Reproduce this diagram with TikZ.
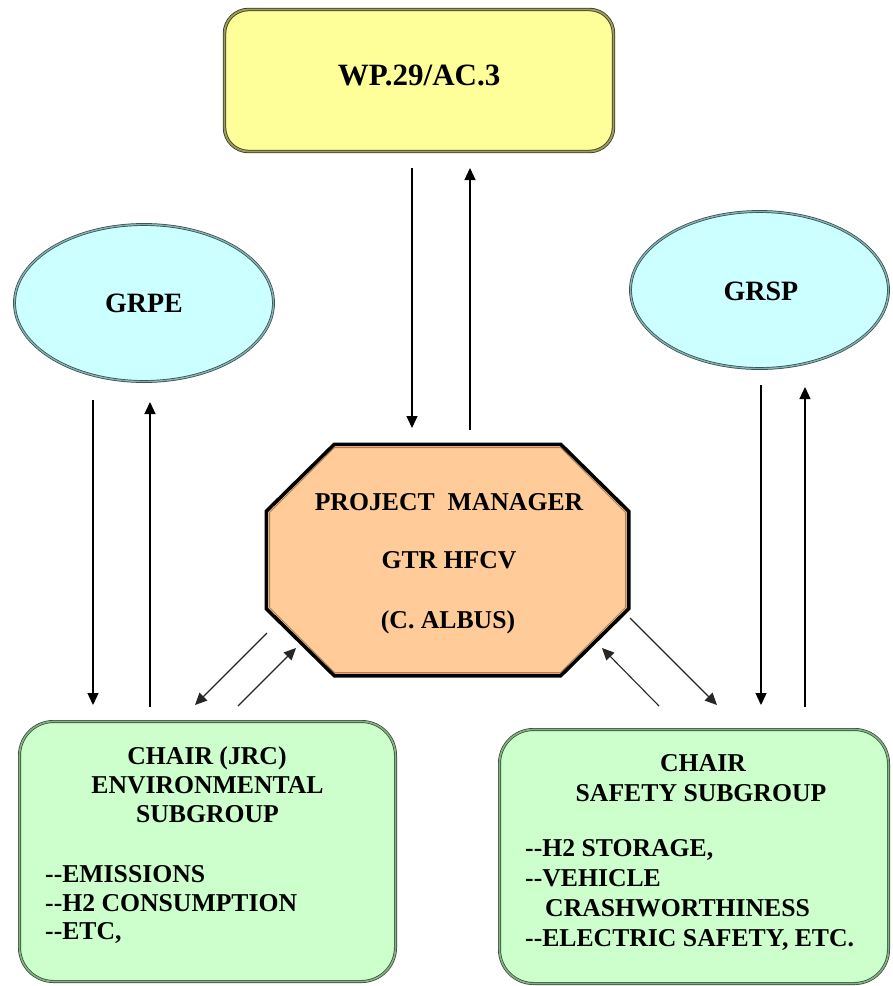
\documentclass[tikz,border=0pt]{standalone}
\usepackage{fontspec}
\setmainfont{Liberation Serif}
\usetikzlibrary{arrows.meta,shapes.geometric,calc}
\definecolor{wpfill}{HTML}{FFFF99}
\definecolor{wpedge}{HTML}{9C9C5C}
\definecolor{wpdark}{HTML}{3A3A20}
\definecolor{elfill}{HTML}{CCFFFF}
\definecolor{eledge}{HTML}{86B0B0}
\definecolor{eldark}{HTML}{2E4848}
\definecolor{pmfill}{HTML}{FFCC99}
\definecolor{pmedge}{HTML}{B08050}
\definecolor{sgfill}{HTML}{CCFFCC}
\definecolor{sgedge}{HTML}{88AE88}
\definecolor{sgdark}{HTML}{2E482E}
\newcommand\twohy{-\kern0pt-}
\begin{document}
\begin{tikzpicture}[x=1pt,y=-1pt,
  txt/.style={font=\fontsize{25.7}{29}\selectfont\bfseries, inner sep=0pt, anchor=base},
  txtl/.style={txt, anchor=base west},
  wpbox/.style={draw=wpdark, line width=0.8pt, double=wpedge, double distance=1.8pt,
     fill=wpfill, rounded corners=24pt, inner sep=0pt},
  elbox/.style={ellipse, draw=eldark, line width=0.7pt, double=eledge, double distance=1.4pt,
     fill=elfill, inner sep=0pt},
  sgbox/.style={draw=sgdark, line width=0.7pt, double=sgedge, double distance=1.6pt,
     fill=sgfill, rounded corners=34pt, inner sep=0pt},
  arr/.style={line width=1.3pt, -{Triangle[width=11pt,length=12pt]}},
  darr/.style={line width=1.1pt, draw=black!85, -{Triangle[width=11pt,length=12pt]}}
]
\useasboundingbox (0,0) rectangle (893,986);
\fill[white] (0,0) rectangle (893,986);

% top box
\node[wpbox, minimum width=389pt, minimum height=142pt] (wp) at (419,80.5) {};
\node[txt, font=\fontsize{31}{34}\selectfont\bfseries] (wpt) at (419,85) {WP.29/AC.3};

% ellipses
\node[elbox, minimum width=259pt, minimum height=157pt] (grpe) at (144,303) {};
\node[txt, font=\fontsize{28}{32}\selectfont\bfseries] (grpet) at (144,312) {GRPE};
\node[elbox, minimum width=258pt, minimum height=157pt] (grsp) at (759.5,290) {};
\node[txt, font=\fontsize{28}{32}\selectfont\bfseries] (grspt) at (761,300) {GRSP};

% octagon (project manager)
\node[minimum width=362pt, minimum height=231pt, inner sep=0pt] (pm) at (447.5,560) {};
\draw[line width=3.6pt, fill=pmfill, line join=miter]
  ($(pm.north west)+(68,0)$) -- ($(pm.north east)+(-68,0)$) -- ($(pm.north east)+(0,67)$)
  -- ($(pm.south east)+(0,-67)$) -- ($(pm.south east)+(-68,0)$) -- ($(pm.south west)+(68,0)$)
  -- ($(pm.south west)+(0,-67)$) -- ($(pm.north west)+(0,67)$) -- cycle;
\draw[line width=1pt, draw=pmedge]
  ($(pm.north west)+(68.2,3.2)$) -- ($(pm.north east)+(-68.2,3.2)$) -- ($(pm.north east)+(-3.2,68.2)$)
  -- ($(pm.south east)+(-3.2,-68.2)$) -- ($(pm.south east)+(-68.2,-3.2)$) -- ($(pm.south west)+(68.2,-3.2)$)
  -- ($(pm.south west)+(3.2,-68.2)$) -- ($(pm.north west)+(3.2,68.2)$) -- cycle;
\node[txt] (pm1) at (449,510) {PROJECT\ \ MANAGER};
\node[txt] (pm2) at (449,568) {GTR HFCV};
\node[txt] (pm3) at (448,628) {(C. ALBUS)};

% bottom boxes
\node[sgbox, minimum width=376pt, minimum height=260pt] (env) at (207.5,851.5) {};
\node[txt] (env1) at (207,764) {CHAIR (JRC)};
\node[txt] (env2) at (207.5,793.5) {ENVIRONMENTAL};
\node[txt] (env3) at (207.5,822.5) {SUBGROUP};
\node[txtl] (env4) at (45,882.5) {\twohy EMISSIONS};
\node[txtl] (env5) at (45,911) {\twohy H2 CONSUMPTION};
\node[txtl] (env6) at (45,939.5) {\twohy ETC,};

\node[sgbox, minimum width=389pt, minimum height=254pt] (saf) at (694,856.5) {};
\node[txt] (saf1) at (703,771.5) {CHAIR};
\node[txt] (saf2) at (701,801.5) {SAFETY SUBGROUP};
\node[txtl] (saf3) at (525,856.5) {\twohy H2 STORAGE,};
\node[txtl] (saf4) at (525,886.5) {\twohy VEHICLE};
\node[txtl] (saf5) at (545,916.5) {CRASHWORTHINESS};
\node[txtl] (saf6) at (525,946) {\twohy ELECTRIC SAFETY, ETC.};

% arrow end points
\coordinate (t1a) at (412,168); \coordinate (t1b) at (412,428);
\coordinate (t2a) at (470,430); \coordinate (t2b) at (470,168);
\coordinate (l1a) at (93,400);  \coordinate (l1b) at (93,705);
\coordinate (l2a) at (150,707); \coordinate (l2b) at (150,402);
\coordinate (r1a) at (761,385); \coordinate (r1b) at (761,705);
\coordinate (r2a) at (805,707); \coordinate (r2b) at (805,387);
\coordinate (d1a) at (267,633); \coordinate (d1b) at (195,705);
\coordinate (d2a) at (238,706); \coordinate (d2b) at (296,648);
\coordinate (d3a) at (630,618); \coordinate (d3b) at (717,705);
\coordinate (d4a) at (659,706); \coordinate (d4b) at (602,648);

\draw[arr] (t1a) -- (t1b);
\draw[arr] (t2a) -- (t2b);
\draw[arr] (l1a) -- (l1b);
\draw[arr] (l2a) -- (l2b);
\draw[arr] (r1a) -- (r1b);
\draw[arr] (r2a) -- (r2b);
\draw[darr] (d1a) -- (d1b);
\draw[darr] (d2a) -- (d2b);
\draw[darr] (d3a) -- (d3b);
\draw[darr] (d4a) -- (d4b);
\end{tikzpicture}
\end{document}
